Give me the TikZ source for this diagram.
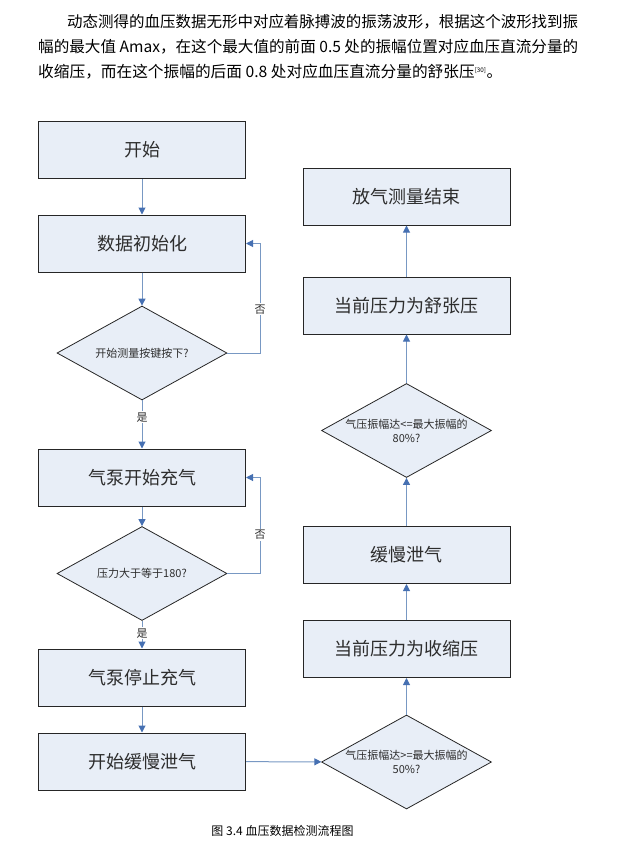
\documentclass[tikz,border=0pt]{standalone}
\usepackage{fontspec}
\newfontfamily\cjk{Noto Sans CJK SC}
\usetikzlibrary{shapes.geometric,arrows.meta}
\definecolor{boxfill}{RGB}{232,238,247}
\definecolor{arrc}{RGB}{120,152,195}
\definecolor{headc}{RGB}{70,112,178}
\definecolor{txt}{RGB}{45,45,45}
\begin{document}
\begin{tikzpicture}[x=1pt,y=-1pt,
  box/.style={draw=black!85, line width=1pt, fill=boxfill, minimum width=207pt, minimum height=57pt, inner sep=0pt, font=\cjk\fontsize{18}{18}\selectfont, text=txt},
  dec/.style={diamond, draw=black!85, line width=0.8pt, fill=boxfill, minimum width=170pt, minimum height=94pt, inner sep=0pt, aspect=1.8},
  dtext/.style={font=\cjk\fontsize{11}{14}\selectfont, align=center, text=txt, inner sep=0pt},
  arr/.style={draw=arrc, line width=1pt, -{Triangle[length=7pt,width=7pt,color=headc]}},
  lbl/.style={font=\cjk\fontsize{11}{11}\selectfont, fill=white, inner sep=1pt, text=txt},
  para/.style={anchor=west, inner sep=0pt, font=\cjk\fontsize{15}{15}\selectfont, text=black}
]
\useasboundingbox (0,0) rectangle (619,841);

% paragraph
\node[para] (p1) at (67,22) {\resizebox{511pt}{!}{动态测得的血压数据无形中对应着脉搏波的振荡波形，根据这个波形找到振}};
\node[para] (p2) at (38,47) {\resizebox{540pt}{!}{幅的最大值 Amax，在这个最大值的前面 0.5 处的振幅位置对应血压直流分量的}};
\node[para] (p3) at (38,72) {\resizebox{464pt}{!}{收缩压，而在这个振幅的后面 0.8 处对应血压直流分量的舒张压\textsuperscript{\fontsize{6}{6}\selectfont[30]}。}};

% left column
\node[box] (start) at (142,150) {开始};
\node[box] (init) at (142,243.5) {数据初始化};
\node[dec] (d1) at (142,353) {};
\node[dtext] (d1t) at (d1.center) {开始测量按键按下?};
\node[box] (pump) at (142,477.5) {气泵开始充气};
\node[dec] (d2) at (142,573.5) {};
\node[dtext] (d2t) at (d2.center) {压力大于等于180?};
\node[box] (stop) at (142,677.5) {气泵停止充气};
\node[box] (slow) at (142,761.5) {开始缓慢泄气};

% right column
\node[dec] (d3) at (406.5,762) {};
\node[dtext] (d3t) at (d3.center) {气压振幅达>=最大振幅的\\50\%?};
\node[box] (sys) at (406.5,649) {当前压力为收缩压};
\node[box] (slow2) at (406.5,555) {缓慢泄气};
\node[dec] (d4) at (406.5,430.5) {};
\node[dtext] (d4t) at (d4.center) {气压振幅达<=最大振幅的\\80\%?};
\node[box] (dia) at (406.5,305.5) {当前压力为舒张压};
\node[box] (end) at (406.5,196.5) {放气测量结束};

\coordinate (c1) at (260,353);
\coordinate (c2) at (260,573.5);

% connectors
\draw[arr] (start) -- (init);
\draw[arr] (init) -- (d1);
\draw[arr] (d1) -- node[lbl, pos=0.35] {是} (pump);
\draw[arr] (d1.east) -- (c1) |- node[lbl, pos=0.2] {否} (init.east);
\draw[arr] (pump) -- (d2);
\draw[arr] (d2) -- node[lbl, pos=0.45] {是} (stop);
\draw[arr] (d2.east) -- (c2) |- node[lbl, pos=0.2] {否} (pump.east);
\draw[arr] (stop) -- (slow);
\draw[arr] (slow) -- (d3);
\draw[arr] (d3) -- (sys);
\draw[arr] (sys) -- (slow2);
\draw[arr] (slow2) -- (d4);
\draw[arr] (d4) -- (dia);
\draw[arr] (dia) -- (end);

% caption
\node[inner sep=0pt, font=\cjk\fontsize{12}{12}\selectfont, text=black] (cap) at (282.5,831) {图 3.4 血压数据检测流程图};
\end{tikzpicture}
\end{document}
